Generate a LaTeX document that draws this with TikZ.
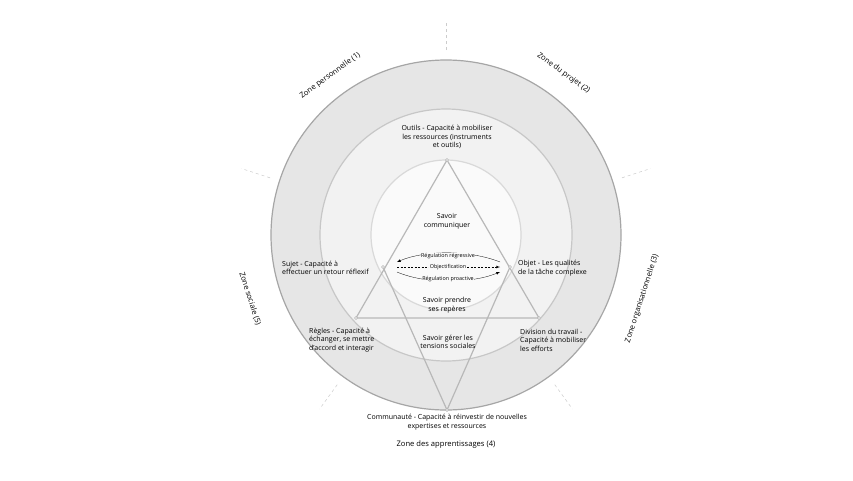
\documentclass[tikz,border=0pt]{standalone}
\usepackage{fontspec}
\setmainfont{Open Sans}
\usetikzlibrary{calc}
\begin{document}
\begin{tikzpicture}[x=1pt,y=-1pt,
  lab/.style={font=\fontsize{7}{8.6}\selectfont,align=center,inner sep=1pt},
  labl/.style={lab,align=left},
  zone/.style={font=\fontsize{7.6}{9}\selectfont,inner sep=0pt},
  sm/.style={font=\fontsize{5.4}{6}\selectfont,inner sep=0.5pt,fill=c3},
  ln/.style={draw=black!28,line width=1.2pt},
  pt/.style={circle,fill=white,draw=black!30,inner sep=0pt,minimum size=3pt,line width=0.4pt},
  tick/.style={draw=black!20,dashed,line width=0.5pt}]
\definecolor{c1}{HTML}{E6E6E6}\definecolor{c2}{HTML}{F2F2F2}\definecolor{c3}{HTML}{FAFAFA}
\useasboundingbox[fill=white] (0,0) rectangle (853,480);
\coordinate (O) at (446,235);
\foreach \a in {-90,-18,54,126,-162} \draw[tick] ($(O)+(\a:185)$) -- ($(O)+(\a:215)$);
\filldraw[fill=c1,draw=black!35,line width=1.2pt] (O) circle (175);
\filldraw[fill=c2,draw=black!22,line width=1.2pt] (O) circle (126);
\filldraw[fill=c3,draw=black!15,line width=1.2pt] (O) circle (75);
\coordinate (A) at (447,160);
\coordinate (S) at (383,267);
\coordinate (Ob) at (510,267);
\coordinate (R) at (356,318);
\coordinate (D) at (539,318);
\coordinate (C) at (447,410);
\draw[ln,line join=round] (A) -- (R) -- (D) -- cycle;
\draw[ln] (S) -- (C) -- (Ob);
\foreach \p in {A,S,Ob,R,D,C} \node[pt] (n\p) at (\p) {};
% arrows
\draw[-latex,line width=0.3pt] (500,262) .. controls (470,250) and (425,250) .. (397,262);
\draw[-latex,dash pattern=on 2pt off 1.5pt,line width=0.3pt] (397,267) -- (500,267);
\draw[-latex,line width=0.3pt] (397,272) .. controls (425,284) and (470,284) .. (500,272);
\node[sm] (r1) at (448,256) {Régulation régressive};
\node[sm] (r2) at (448,267) {Objectification};
\node[sm] (r3) at (448,279) {Régulation proactive};
% texts
\node[lab] (t1) at (447,137) {Outils - Capacité à mobiliser\\les ressources (instruments\\et outils)};
\node[lab] (t2) at (447,221) {Savoir\\communiquer};
\node[labl,anchor=west] (t3) at (281,268) {Sujet - Capacité à\\effectuer un retour réflexif};
\node[labl,anchor=west] (t4) at (517,268) {Objet - Les qualités\\de la tâche complexe};
\node[lab] (t5) at (447,305) {Savoir prendre\\ses repères};
\node[labl,anchor=west] (t6) at (308,340) {Règles - Capacité à\\échanger, se mettre\\d'accord et interagir};
\node[lab] (t7) at (448,342) {Savoir gérer les\\tensions sociales};
\node[labl,anchor=west] (t8) at (519,340) {Division du travail -\\Capacité à mobiliser\\les efforts};
\node[lab] (t9) at (447,422) {Communauté - Capacité à réinvestir de nouvelles\\expertises et ressources};
% zones
\node[zone,rotate=36] (z1) at ($(O)+(-126:197)$) {Zone personnelle (1)};
\node[zone,rotate=-36] (z2) at ($(O)+(-54:200)$) {Zone du projet (2)};
\node[zone,rotate=72] (z3) at ($(O)+(18:206)$) {Zone organisationnelle (3)};
\node[zone] (z4) at ($(O)+(90:210)$) {Zone des apprentissages (4)};
\node[zone,rotate=-72] (z5) at ($(O)+(-198:206)$) {Zone sociale (5)};
\end{tikzpicture}
\end{document}
